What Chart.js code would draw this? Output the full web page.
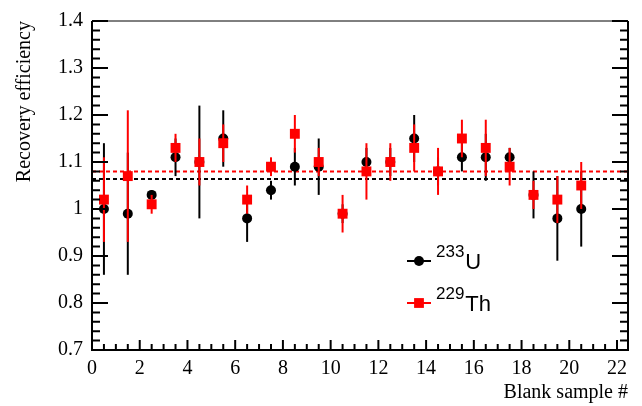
<!DOCTYPE html>
<html>
<head>
<meta charset="utf-8">
<script src="https://cdn.jsdelivr.net/npm/chart.js"></script>
<style>
html, body {margin: 0; padding: 0; background: #fff;}
</style>
</head>
<body>
<canvas id="myChart" width="642" height="406"></canvas>
<script>
// blank sample number (bin centres)
const samples = [0.5, 1.5, 2.5, 3.5, 4.5, 5.5, 6.5, 7.5, 8.5, 9.5, 10.5,
                 11.5, 12.5, 13.5, 14.5, 15.5, 16.5, 17.5, 18.5, 19.5, 20.5];
// 233U recovery and errors
const effU = [1.00, 0.99, 1.03, 1.11, 1.10, 1.15, 0.98, 1.04, 1.09, 1.09, 0.99,
              1.10, 1.10, 1.15, 1.08, 1.11, 1.11, 1.11, 1.03, 0.98, 1.00];
const errU = [0.14, 0.13, 0.01, 0.04, 0.12, 0.06, 0.05, 0.02, 0.04, 0.06, 0.02,
              0.03, 0.03, 0.05, 0.03, 0.03, 0.05, 0.02, 0.05, 0.09, 0.08];
// 229Th recovery and errors
const effTh = [1.02, 1.07, 1.01, 1.13, 1.10, 1.14, 1.02, 1.09, 1.16, 1.10, 0.99,
               1.08, 1.10, 1.13, 1.08, 1.15, 1.13, 1.09, 1.03, 1.02, 1.05];
const errTh = [0.09, 0.14, 0.02, 0.03, 0.05, 0.04, 0.03, 0.02, 0.04, 0.03, 0.04,
               0.06, 0.04, 0.05, 0.05, 0.04, 0.06, 0.04, 0.03, 0.05, 0.05];
// mean values (dashed lines)
const meanU = 1.064;
const meanTh = 1.080;
// axes
const xMin = 0, xMax = 22.46;
const yMin = 0.7, yMax = 1.4;
const xTicks = [0, 2, 4, 6, 8, 10, 12, 14, 16, 18, 20, 22];
const yTicks = [0.7, 0.8, 0.9, 1.0, 1.1, 1.2, 1.3, 1.4];

const errors = {U: errU, Th: errTh};

const errorBars = {
    id: 'errorBars',
    beforeDatasetDraw(chart, args) {
        let ds = chart.data.datasets[args.index];
        let errs = errors[ds.key];
        if (!errs) return;
        let ctx = chart.ctx, x = chart.scales.x, y = chart.scales.y;
        ctx.save();
        ctx.strokeStyle = ds.backgroundColor;
        ctx.lineWidth = 2;
        ds.data.forEach(function (p, i) {
            let px = x.getPixelForValue(p.x);
            ctx.beginPath();
            ctx.moveTo(px, y.getPixelForValue(p.y + errs[i]));
            ctx.lineTo(px, y.getPixelForValue(p.y - errs[i]));
            ctx.stroke();
        });
        ctx.restore();
    }
};

const frame = {
    id: 'frame',
    afterDraw(chart) {
        let ctx = chart.ctx, a = chart.chartArea;
        let x = chart.scales.x, y = chart.scales.y;
        ctx.save();
        ctx.strokeStyle = '#000';
        ctx.lineWidth = 1;
        ctx.beginPath();
        ctx.moveTo(a.left, a.top);
        ctx.lineTo(a.right, a.top);
        ctx.stroke();
        ctx.lineWidth = 2;
        ctx.beginPath();
        ctx.moveTo(a.left, a.top);
        ctx.lineTo(a.left, a.bottom);
        ctx.lineTo(a.right, a.bottom);
        ctx.lineTo(a.right, a.top);
        ctx.stroke();
        // x ticks
        for (let v = 0; v <= 22.001; v += 0.5) {
            let px = x.getPixelForValue(v);
            let len = Math.abs(v % 2) < 0.001 ? 10 : 6;
            ctx.beginPath();
            ctx.moveTo(px, a.bottom);
            ctx.lineTo(px, a.bottom - len);
            ctx.stroke();
        }
        // y ticks, both sides
        for (let k = 0; k <= 35; k++) {
            let py = y.getPixelForValue(yMin + k * 0.02);
            let len = k % 5 === 0 ? 16 : 8;
            ctx.beginPath();
            ctx.moveTo(a.left, py);
            ctx.lineTo(a.left + len, py);
            ctx.moveTo(a.right, py);
            ctx.lineTo(a.right - len, py);
            ctx.stroke();
        }
        ctx.restore();
    }
};

const legendBox = {
    id: 'legendBox',
    afterDraw(chart) {
        let ctx = chart.ctx;
        let rows = [
            {iso: '233', el: 'U', color: '#000', style: 'circle', y: 261},
            {iso: '229', el: 'Th', color: '#ff0000', style: 'rect', y: 303}
        ];
        ctx.save();
        rows.forEach(function (r) {
            ctx.strokeStyle = r.color;
            ctx.fillStyle = r.color;
            ctx.lineWidth = 2;
            ctx.beginPath();
            ctx.moveTo(407, r.y);
            ctx.lineTo(431, r.y);
            ctx.stroke();
            if (r.style === 'circle') {
                ctx.beginPath();
                ctx.arc(419, r.y, 5, 0, Math.PI * 2);
                ctx.fill();
            } else {
                ctx.fillRect(419 - 4.9, r.y - 4.9, 9.8, 9.8);
            }
            ctx.fillStyle = '#000';
            ctx.textAlign = 'left';
            ctx.textBaseline = 'alphabetic';
            ctx.font = '17px "Liberation Sans"';
            ctx.fillText(r.iso, 436, r.y - 4);
            let w = ctx.measureText(r.iso).width;
            ctx.font = '22px "Liberation Sans"';
            ctx.fillText(r.el, 436 + w + 1, r.y + 8);
        });
        ctx.restore();
    }
};

new Chart("myChart", {
    type: "scatter",
    data: {
        datasets: [{
            key: 'Th',
            data: samples.map((s, i) => ({x: s, y: effTh[i]})),
            backgroundColor: '#ff0000',
            borderColor: '#ff0000',
            pointStyle: 'rect',
            pointRadius: 7,
            pointBorderWidth: 0,
            order: 1
        }, {
            key: 'U',
            data: samples.map((s, i) => ({x: s, y: effU[i]})),
            backgroundColor: '#000',
            borderColor: '#000',
            pointStyle: 'circle',
            pointRadius: 5,
            pointBorderWidth: 0,
            order: 2
        }, {
            type: 'line',
            data: [{x: xMin, y: meanTh}, {x: xMax, y: meanTh}],
            borderColor: '#ff0000',
            borderWidth: 2,
            borderDash: [4, 3],
            pointRadius: 0,
            order: 3
        }, {
            type: 'line',
            data: [{x: xMin, y: meanU}, {x: xMax, y: meanU}],
            borderColor: '#000',
            borderWidth: 2,
            borderDash: [4, 3],
            pointRadius: 0,
            order: 3
        }]
    },
    options: {
        responsive: false,
        animation: false,
        devicePixelRatio: 1,
        layout: {padding: {top: 13, right: 14, left: 0, bottom: 0}},
        plugins: {legend: {display: false}, tooltip: {enabled: false}},
        scales: {
            x: {
                type: 'linear',
                min: xMin,
                max: xMax,
                afterFit: s => { s.height = 56; },
                afterBuildTicks: s => { s.ticks = xTicks.map(v => ({value: v})); },
                grid: {display: false, drawTicks: false},
                border: {display: false},
                ticks: {color: '#000', padding: 7, maxRotation: 0,
                        font: {family: 'Liberation Serif', size: 20}},
                title: {display: true, text: 'Blank sample #', align: 'end', color: '#000',
                        padding: {top: 0, bottom: 1},
                        font: {family: 'Liberation Serif', size: 20}}
            },
            y: {
                type: 'linear',
                min: yMin,
                max: yMax,
                afterFit: s => { s.width = 92; },
                afterBuildTicks: s => { s.ticks = yTicks.map(v => ({value: v})); },
                grid: {display: false, drawTicks: false},
                border: {display: false},
                ticks: {color: '#000', padding: 9,
                        callback: v => String(+v.toFixed(1)),
                        font: {family: 'Liberation Serif', size: 20}},
                title: {display: true, text: 'Recovery efficiency', align: 'end', color: '#000',
                        padding: {top: 13, bottom: 0},
                        font: {family: 'Liberation Serif', size: 20}}
            }
        }
    },
    plugins: [errorBars, frame, legendBox]
});
</script>
</body>
</html>
